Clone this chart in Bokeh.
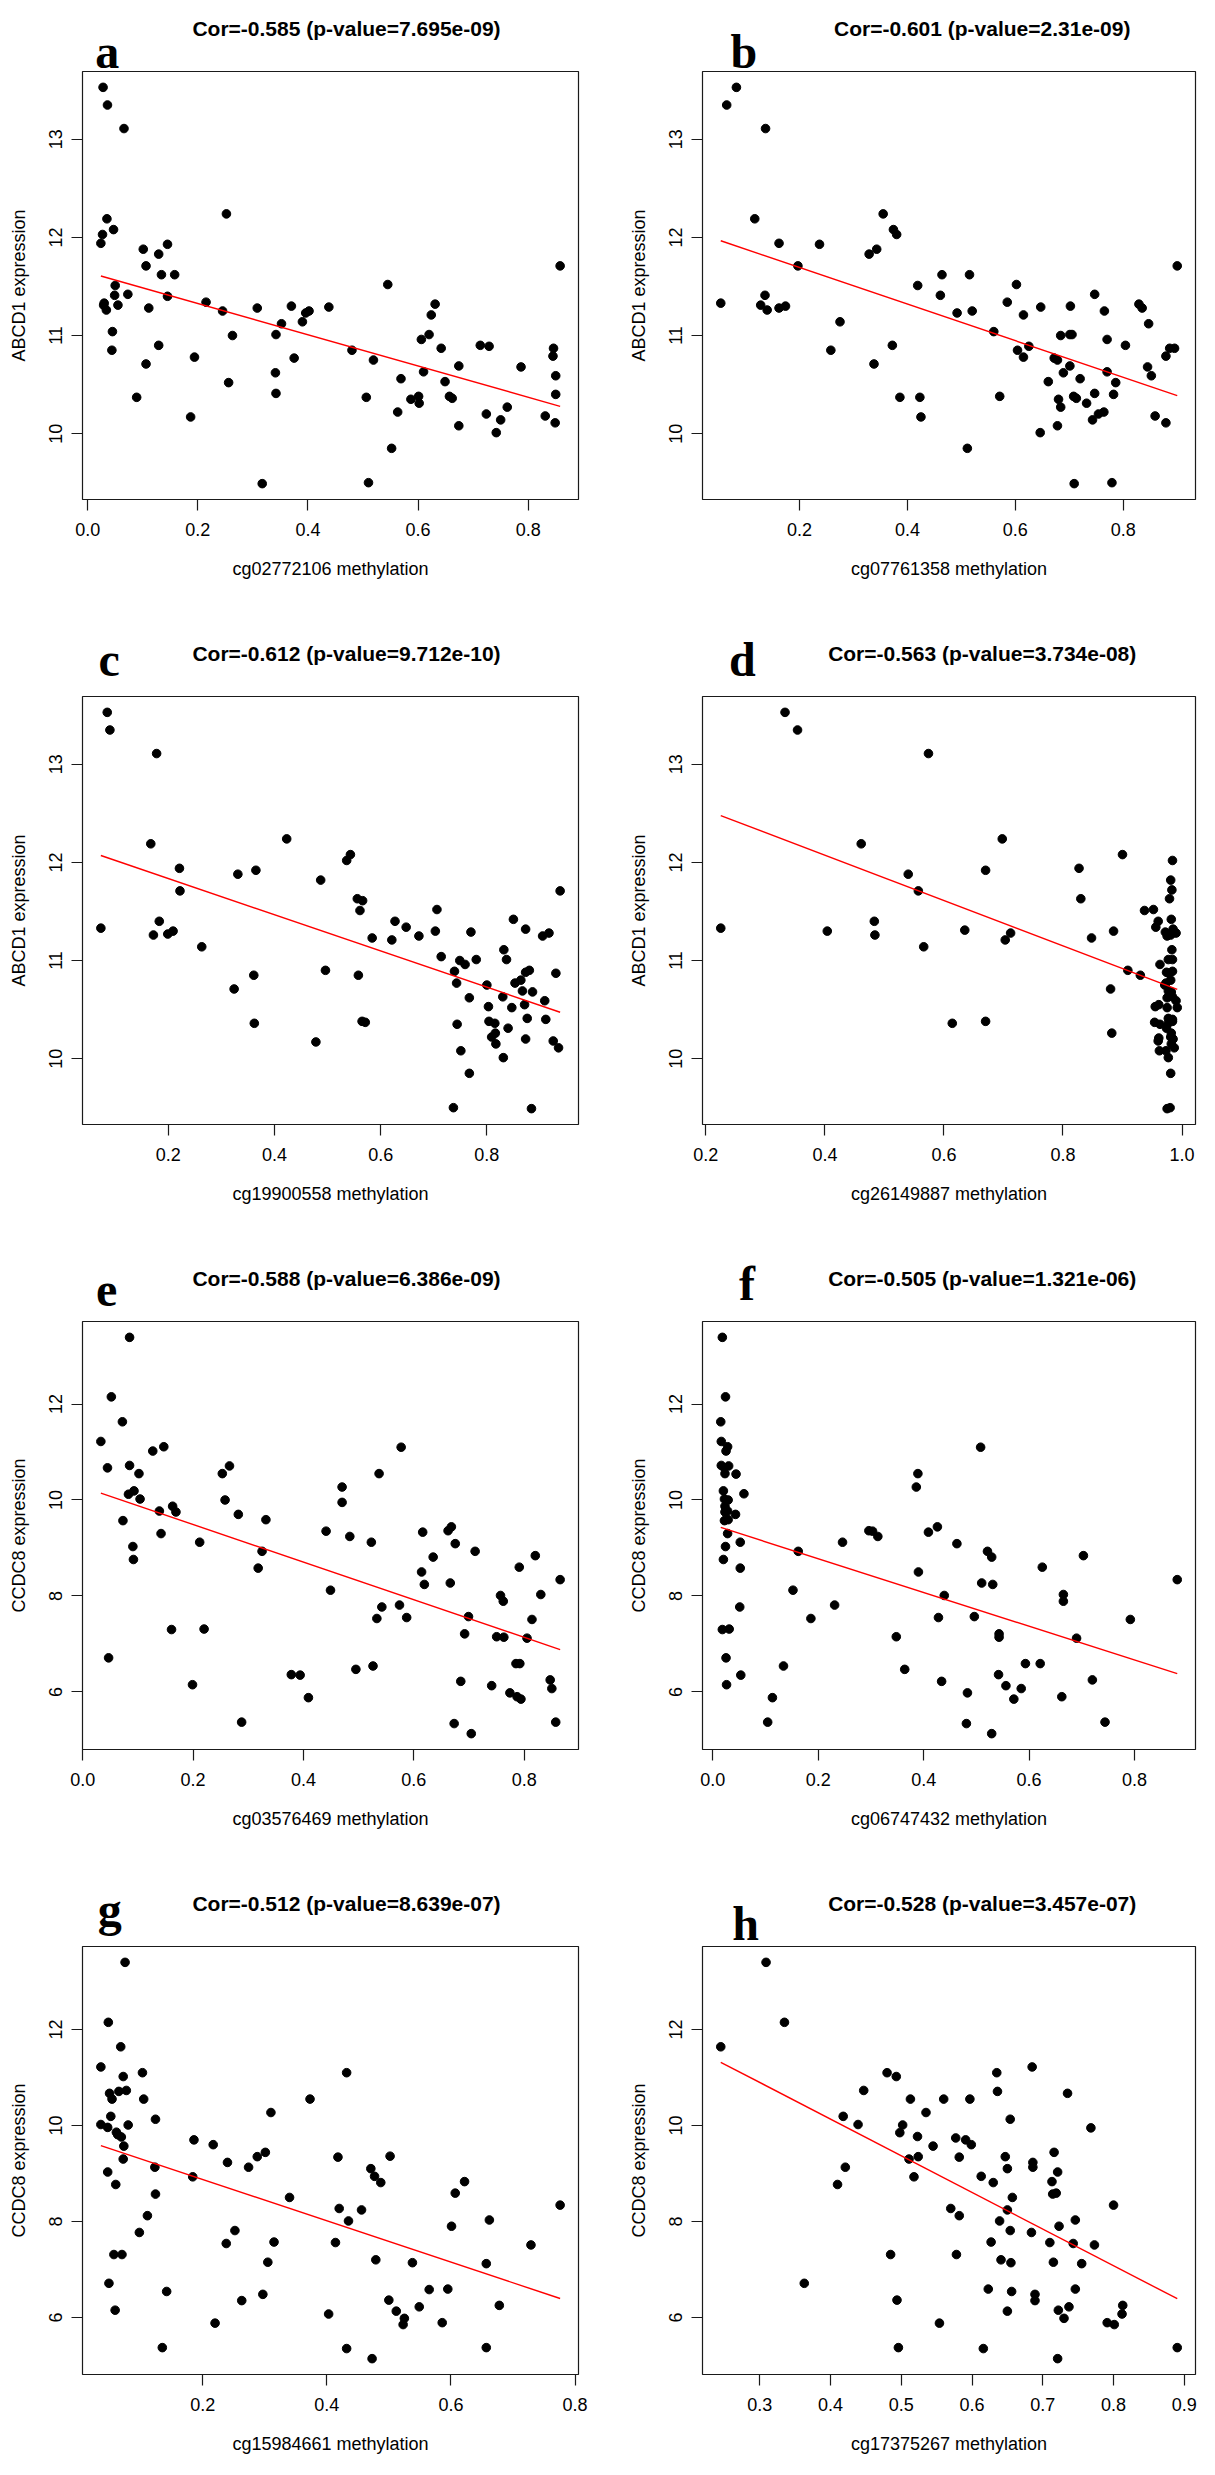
import numpy as np
from bokeh.plotting import figure
from bokeh.models import Range1d, FixedTicker, PrintfTickFormatter, Label
from bokeh.layouts import column, row
from bokeh.embed import file_html
from bokeh.resources import INLINE

# ---------------- data ----------------
letters = ["a", "b", "c", "d", "e", "f", "g", "h"]
titles = [
    "Cor=-0.585 (p-value=7.695e-09)", "Cor=-0.601 (p-value=2.31e-09)",
    "Cor=-0.612 (p-value=9.712e-10)", "Cor=-0.563 (p-value=3.734e-08)",
    "Cor=-0.588 (p-value=6.386e-09)", "Cor=-0.505 (p-value=1.321e-06)",
    "Cor=-0.512 (p-value=8.639e-07)", "Cor=-0.528 (p-value=3.457e-07)",
]
x_labels = [
    "cg02772106 methylation", "cg07761358 methylation",
    "cg19900558 methylation", "cg26149887 methylation",
    "cg03576469 methylation", "cg06747432 methylation",
    "cg15984661 methylation", "cg17375267 methylation",
]
y_labels = ["ABCD1 expression"] * 4 + ["CCDC8 expression"] * 4
x_ticks = [
    [0.0, 0.2, 0.4, 0.6, 0.8], [0.2, 0.4, 0.6, 0.8],
    [0.2, 0.4, 0.6, 0.8], [0.2, 0.4, 0.6, 0.8, 1.0],
    [0.0, 0.2, 0.4, 0.6, 0.8], [0.0, 0.2, 0.4, 0.6, 0.8],
    [0.2, 0.4, 0.6, 0.8], [0.3, 0.4, 0.5, 0.6, 0.7, 0.8, 0.9],
]
y_ticks = [[10, 11, 12, 13]] * 4 + [[6, 8, 10, 12]] * 4

a_x = [0.028, 0.036, 0.066, 0.035, 0.047, 0.027, 0.024, 0.252, 0.101, 0.106,
       0.129, 0.145, 0.134, 0.158, 0.050, 0.049, 0.073, 0.145, 0.030, 0.029,
       0.034, 0.055, 0.111, 0.045, 0.044, 0.106, 0.129, 0.089, 0.194, 0.187,
       0.215, 0.245, 0.263, 0.256, 0.308, 0.317, 0.342, 0.341, 0.342, 0.352,
       0.370, 0.375, 0.390, 0.396, 0.402, 0.438, 0.480, 0.506, 0.510, 0.519,
       0.545, 0.552, 0.563, 0.569, 0.587, 0.601, 0.602, 0.606, 0.610, 0.620,
       0.624, 0.631, 0.642, 0.649, 0.657, 0.662, 0.674, 0.674, 0.713, 0.729,
       0.724, 0.742, 0.750, 0.762, 0.787, 0.831, 0.846, 0.845, 0.850, 0.850,
       0.849, 0.858]
a_y = [13.53, 13.35, 13.11, 12.19, 12.08, 12.03, 11.94, 12.24, 11.88, 11.71,
       11.83, 11.93, 11.62, 11.62, 11.51, 11.41, 11.42, 11.40, 11.33, 11.31,
       11.26, 11.31, 11.28, 11.04, 10.85, 10.71, 10.90, 10.37, 10.78, 10.17,
       11.34, 11.25, 11.00, 10.52, 11.28, 9.49, 11.01, 10.62, 10.41, 11.12,
       11.30, 10.77, 11.14, 11.23, 11.25, 11.29, 10.85, 10.37, 9.50, 10.75,
       11.52, 9.85, 10.22, 10.56, 10.35, 10.38, 10.31, 10.96, 10.63, 11.01,
       11.21, 11.32, 10.87, 10.53, 10.38, 10.36, 10.69, 10.08, 10.90, 10.89,
       10.20, 10.01, 10.14, 10.27, 10.68, 10.18, 10.87, 10.79, 10.59, 10.40,
       10.11, 11.71]

b_x = [0.054, 0.065, 0.083, 0.137, 0.117, 0.128, 0.136, 0.140, 0.162, 0.162,
       0.174, 0.197, 0.237, 0.258, 0.275, 0.329, 0.343, 0.338, 0.355, 0.374,
       0.380, 0.372, 0.386, 0.419, 0.423, 0.425, 0.461, 0.464, 0.492, 0.515,
       0.520, 0.511, 0.560, 0.571, 0.585, 0.602, 0.604, 0.615, 0.615, 0.625,
       0.647, 0.646, 0.661, 0.672, 0.678, 0.680, 0.678, 0.684, 0.684, 0.689,
       0.702, 0.701, 0.705, 0.701, 0.708, 0.713, 0.709, 0.720, 0.732, 0.743,
       0.747, 0.747, 0.754, 0.764, 0.765, 0.770, 0.770, 0.782, 0.779, 0.786,
       0.804, 0.829, 0.835, 0.847, 0.845, 0.852, 0.859, 0.879, 0.879, 0.886,
       0.895, 0.900]
b_y = [11.33, 13.35, 13.53, 13.11, 12.19, 11.31, 11.41, 11.26, 11.94, 11.28,
       11.30, 11.71, 11.93, 10.85, 11.14, 11.83, 11.88, 10.71, 12.24, 12.08,
       12.03, 10.90, 10.37, 11.51, 10.37, 10.17, 11.41, 11.62, 11.23, 11.62,
       11.25, 9.85, 11.04, 10.38, 11.34, 11.52, 10.85, 11.21, 10.78, 10.89,
       11.29, 10.01, 10.53, 10.77, 10.75, 10.35, 10.08, 10.27, 11.00, 10.62,
       11.30, 11.01, 11.01, 10.69, 10.38, 10.36, 9.49, 10.56, 10.31, 10.14,
       11.42, 10.41, 10.20, 10.22, 11.25, 10.96, 10.63, 10.40, 9.50, 10.52,
       10.90, 11.32, 11.28, 11.12, 10.68, 10.59, 10.18, 10.79, 10.11, 10.87,
       10.87, 11.71]

c_x = [0.073, 0.085, 0.090, 0.167, 0.172, 0.178, 0.183, 0.199, 0.209, 0.221,
       0.222, 0.263, 0.324, 0.331, 0.361, 0.362, 0.365, 0.423, 0.478, 0.487,
       0.496, 0.536, 0.543, 0.556, 0.566, 0.561, 0.558, 0.565, 0.571, 0.584,
       0.621, 0.627, 0.648, 0.672, 0.703, 0.706, 0.714, 0.739, 0.743, 0.744,
       0.737, 0.749, 0.751, 0.759, 0.767, 0.767, 0.770, 0.780, 0.800, 0.803,
       0.804, 0.809, 0.815, 0.816, 0.817, 0.830, 0.831, 0.832, 0.837, 0.840,
       0.847, 0.850, 0.853, 0.864, 0.867, 0.873, 0.871, 0.873, 0.880, 0.876,
       0.873, 0.884, 0.886, 0.905, 0.917, 0.909, 0.911, 0.925, 0.930, 0.935,
       0.938]
c_y = [11.33, 13.53, 13.35, 12.19, 11.26, 13.11, 11.40, 11.27, 11.30, 11.94,
       11.71, 11.14, 10.71, 11.88, 10.85, 10.36, 11.92, 12.24, 10.17, 11.82,
       10.90, 12.02, 12.08, 11.63, 11.61, 11.51, 10.85, 10.38, 10.37, 11.23,
       11.21, 11.40, 11.34, 11.25, 11.30, 11.52, 11.04, 10.89, 10.77, 10.35,
       9.50, 11.00, 10.08, 10.96, 10.62, 9.85, 11.29, 11.01, 10.75, 10.53,
       10.38, 10.22, 10.36, 10.26, 10.15, 10.63, 10.01, 11.11, 11.01, 10.31,
       10.52, 11.42, 10.77, 10.80, 10.69, 11.32, 10.55, 10.88, 10.90, 10.41,
       10.20, 9.49, 10.68, 11.25, 11.28, 10.59, 10.40, 10.18, 10.87, 10.11,
       11.71]

d_x = [0.225, 0.333, 0.354, 0.574, 0.461, 0.404, 0.483, 0.484, 0.540, 0.557,
       0.566, 0.614, 0.635, 0.670, 0.670, 0.698, 0.703, 0.712, 0.827, 0.830,
       0.848, 0.880, 0.882, 0.885, 0.900, 0.909, 0.930, 0.937, 0.952, 0.960,
       0.956, 0.955, 0.961, 0.954, 0.963, 0.960, 0.961, 0.962, 0.963, 0.972,
       0.975, 0.981, 0.985, 0.990, 0.979, 0.981, 0.984, 0.983, 0.982, 0.983,
       0.977, 0.984, 0.974, 0.978, 0.984, 0.973, 0.981, 0.977, 0.982, 0.975,
       0.984, 0.990, 0.992, 0.977, 0.984, 0.974, 0.981, 0.985, 0.982, 0.987,
       0.977, 0.981, 0.975, 0.980, 0.971, 0.975, 0.977, 0.984, 0.982, 0.973]
d_y = [11.33, 13.53, 13.35, 13.11, 12.19, 11.30, 11.40, 11.26, 11.88, 11.71,
       11.14, 10.36, 11.31, 11.92, 10.38, 12.24, 11.21, 11.28, 11.94, 11.63,
       11.23, 10.71, 10.26, 11.30, 12.08, 10.90, 10.85, 11.51, 11.52, 11.40,
       11.34, 10.53, 10.55, 10.37, 10.35, 10.18, 10.21, 10.08, 10.96, 11.29,
       11.25, 11.26, 11.32, 11.28, 11.63, 11.82, 12.02, 11.72, 11.42, 11.11,
       11.01, 11.01, 10.88, 10.87, 10.89, 10.77, 10.80, 10.69, 10.68, 10.62,
       10.63, 10.59, 10.52, 10.41, 10.40, 10.31, 10.22, 10.20, 10.15, 10.11,
       10.01, 9.85, 9.49, 9.50, 10.75, 10.52, 10.36, 10.38, 10.26, 10.08]

e_x = [0.033, 0.045, 0.052, 0.047, 0.072, 0.073, 0.085, 0.085, 0.083, 0.093,
       0.091, 0.092, 0.102, 0.104, 0.127, 0.147, 0.139, 0.142, 0.163, 0.169,
       0.161, 0.199, 0.212, 0.220, 0.253, 0.258, 0.266, 0.282, 0.288, 0.318,
       0.325, 0.332, 0.378, 0.394, 0.409, 0.441, 0.449, 0.470, 0.470, 0.484,
       0.495, 0.523, 0.526, 0.537, 0.533, 0.542, 0.574, 0.577, 0.587, 0.614,
       0.616, 0.619, 0.635, 0.662, 0.668, 0.666, 0.675, 0.673, 0.685, 0.692,
       0.699, 0.704, 0.711, 0.741, 0.750, 0.763, 0.757, 0.762, 0.774, 0.785,
       0.792, 0.787, 0.794, 0.791, 0.805, 0.814, 0.820, 0.830, 0.847, 0.850,
       0.857, 0.865]
e_y = [11.22, 10.67, 12.15, 6.71, 11.63, 9.57, 13.39, 10.72, 10.12, 10.19,
       9.03, 8.76, 10.55, 10.02, 11.02, 11.11, 9.77, 9.30, 9.87, 9.75,
       7.30, 6.15, 9.12, 7.31, 10.55, 10.00, 10.71, 9.70, 5.37, 8.58,
       8.93, 9.59, 6.36, 6.35, 5.88, 9.35, 8.12, 10.27, 9.95, 9.24,
       6.47, 9.12, 6.54, 10.55, 7.53, 7.77, 7.81, 11.10, 7.55, 8.50,
       9.33, 8.24, 8.81, 9.36, 9.44, 8.27, 9.09, 5.34, 6.22, 7.21,
       7.57, 5.13, 8.93, 6.13, 7.15, 7.14, 8.01, 7.89, 5.98, 6.59,
       6.59, 5.90, 5.85, 8.60, 7.12, 7.51, 8.84, 8.03, 6.25, 6.07,
       5.37, 8.34]

f_x = [0.018, 0.024, 0.015, 0.016, 0.028, 0.025, 0.016, 0.022, 0.030, 0.023,
       0.044, 0.020, 0.059, 0.022, 0.029, 0.023, 0.028, 0.023, 0.043, 0.022,
       0.029, 0.028, 0.052, 0.024, 0.020, 0.052, 0.051, 0.018, 0.031, 0.025,
       0.026, 0.053, 0.104, 0.113, 0.134, 0.152, 0.162, 0.186, 0.231, 0.246,
       0.296, 0.303, 0.313, 0.348, 0.364, 0.386, 0.389, 0.390, 0.409, 0.426,
       0.428, 0.434, 0.439, 0.463, 0.481, 0.483, 0.496, 0.508, 0.510, 0.521,
       0.529, 0.531, 0.529, 0.543, 0.543, 0.542, 0.556, 0.571, 0.585, 0.593,
       0.621, 0.625, 0.662, 0.665, 0.665, 0.690, 0.703, 0.720, 0.744, 0.792,
       0.881]
f_y = [13.39, 12.15, 11.63, 11.22, 11.11, 11.02, 10.72, 10.67, 10.71, 10.55,
       10.54, 10.19, 10.13, 10.02, 10.00, 9.87, 9.77, 9.75, 9.70, 9.57,
       9.59, 9.30, 9.12, 9.03, 8.76, 8.58, 7.77, 7.30, 7.31, 6.71,
       6.15, 6.35, 5.37, 5.88, 6.54, 8.12, 8.93, 7.53, 7.81, 9.12,
       9.36, 9.35, 9.24, 7.15, 6.47, 10.27, 10.55, 8.50, 9.33, 9.44,
       7.55, 6.22, 8.01, 9.09, 5.34, 5.98, 7.57, 11.10, 8.27, 8.93,
       8.81, 8.24, 5.13, 7.21, 7.14, 6.36, 6.13, 5.85, 6.07, 6.59,
       6.59, 8.60, 5.90, 8.03, 7.89, 7.12, 8.84, 6.25, 5.37, 7.51,
       8.34]

g_x = [0.036, 0.036, 0.047, 0.048, 0.047, 0.049, 0.050, 0.054, 0.052, 0.060,
       0.059, 0.057, 0.061, 0.063, 0.068, 0.065, 0.069, 0.070, 0.072, 0.073,
       0.072, 0.075, 0.077, 0.080, 0.098, 0.103, 0.105, 0.111, 0.123, 0.124,
       0.124, 0.135, 0.142, 0.186, 0.184, 0.217, 0.220, 0.238, 0.240, 0.252,
       0.263, 0.274, 0.288, 0.297, 0.301, 0.305, 0.310, 0.315, 0.340, 0.373,
       0.403, 0.414, 0.418, 0.420, 0.432, 0.432, 0.435, 0.456, 0.471, 0.477,
       0.473, 0.479, 0.487, 0.500, 0.502, 0.512, 0.523, 0.525, 0.538, 0.549,
       0.565, 0.586, 0.595, 0.601, 0.607, 0.622, 0.657, 0.657, 0.662, 0.678,
       0.729, 0.776]
g_y = [11.22, 10.02, 9.96, 12.15, 9.03, 6.71, 10.67, 10.55, 10.19, 8.77,
       6.15, 7.31, 9.86, 9.81, 11.64, 10.71, 9.76, 7.31, 11.02, 9.57,
       9.30, 13.40, 10.73, 10.01, 7.77, 11.10, 10.55, 8.12, 9.13, 10.13,
       8.57, 5.37, 6.54, 9.70, 8.93, 9.60, 5.88, 7.54, 9.23, 7.81,
       6.35, 9.13, 9.35, 6.48, 9.44, 7.15, 10.27, 7.57, 8.50, 10.55,
       6.07, 7.56, 9.34, 8.27, 11.10, 5.35, 8.01, 8.24, 9.10, 8.94,
       5.14, 7.20, 8.81, 6.36, 9.36, 6.13, 5.85, 5.98, 7.14, 6.22,
       6.58, 5.89, 6.59, 7.90, 8.59, 8.83, 7.12, 5.37, 8.03, 6.25,
       7.51, 8.34]

h_x = [0.245, 0.309, 0.335, 0.363, 0.410, 0.418, 0.421, 0.439, 0.447, 0.480,
       0.493, 0.485, 0.498, 0.502, 0.494, 0.496, 0.511, 0.513, 0.523, 0.524,
       0.518, 0.535, 0.545, 0.554, 0.560, 0.570, 0.577, 0.582, 0.582, 0.578,
       0.591, 0.597, 0.599, 0.613, 0.616, 0.623, 0.627, 0.630, 0.635, 0.636,
       0.639, 0.641, 0.647, 0.650, 0.650, 0.650, 0.654, 0.654, 0.655, 0.656,
       0.657, 0.684, 0.685, 0.686, 0.686, 0.689, 0.689, 0.710, 0.713, 0.714,
       0.715, 0.716, 0.719, 0.721, 0.721, 0.722, 0.723, 0.730, 0.735, 0.737,
       0.743, 0.746, 0.746, 0.755, 0.768, 0.773, 0.791, 0.801, 0.800, 0.812,
       0.813, 0.890]
h_y = [11.64, 13.40, 12.15, 6.71, 8.77, 10.19, 9.13, 10.02, 10.73, 11.10,
       11.02, 7.31, 9.85, 10.01, 6.36, 5.37, 9.30, 10.55, 9.77, 9.35,
       8.93, 10.27, 9.57, 5.88, 10.55, 8.27, 9.74, 9.34, 8.12, 7.31,
       9.70, 10.55, 9.60, 8.94, 5.35, 6.59, 7.57, 8.81, 11.10, 10.71,
       8.01, 7.20, 9.35, 9.10, 8.24, 6.13, 10.13, 7.81, 7.14, 6.54,
       8.50, 7.77, 11.22, 9.23, 9.13, 6.48, 6.35, 7.56, 8.83, 8.57,
       7.15, 9.44, 8.59, 9.03, 5.14, 6.15, 7.90, 5.98, 10.67, 6.22,
       7.54, 8.03, 6.59, 7.12, 9.95, 7.51, 5.89, 5.85, 8.34, 6.07,
       6.25, 5.37]

xs_all = [a_x, b_x, c_x, d_x, e_x, f_x, g_x, h_x]
ys_all = [a_y, b_y, c_y, d_y, e_y, f_y, g_y, h_y]

# ---------------- layout / style ----------------
SANS = "Liberation Sans"
SERIF = "Liberation Serif"
FRAME_H = 428
COL_W = [620, 579]
BORDER_L = [82, 82]
BORDER_R = [42, 4]
HEAD_H = [69, 87, 87, 87]      # height of the strip holding letter + title
TOP_PAD = 2                    # gap between strip and the plot box
ROW_B = [108, 108, 108, 85]
# panel letter placement relative to the box (left offset, baseline above box top)
LETTER_DX = [-66, -49, -62, -51, -65, -39, -63, -47]
LETTER_DY = [20, 20, 37, 37, 32, 38, 37, 23]
LETTER_SIZE = "48px"
TITLE_DY = 42.7
INK = "#1a1a1a"


def padded(v):
    lo, hi = min(v), max(v)
    d = (hi - lo) * 0.04
    return Range1d(lo - d, hi + d)


def make_head(i):
    r, c = divmod(i, 2)
    w, h = COL_W[c], HEAD_H[r]
    fw = COL_W[c] - BORDER_L[c] - BORDER_R[c]
    s = figure(width=w, height=h, x_range=Range1d(0, w), y_range=Range1d(0, h),
               x_axis_type=None, y_axis_type=None,
               output_backend="svg", toolbar_location=None, min_border=0)
    s.grid.visible = False
    s.outline_line_color = None
    s.background_fill_color = "white"
    s.border_fill_color = "white"
    s.add_layout(Label(x=BORDER_L[c] + fw / 2, y=TITLE_DY - TOP_PAD, text=titles[i],
                       text_font=SANS, text_font_size="21px",
                       text_font_style="bold", text_color="black",
                       text_align="center", text_baseline="middle"))
    s.add_layout(Label(x=BORDER_L[c] + LETTER_DX[i], y=LETTER_DY[i] - TOP_PAD, text=letters[i],
                       text_font=SERIF, text_font_size=LETTER_SIZE,
                       text_font_style="bold", text_color="black",
                       text_align="left", text_baseline="alphabetic"))
    return s


def make_panel(i):
    r, c = divmod(i, 2)
    x = xs_all[i]
    y = ys_all[i]
    p = figure(width=COL_W[c], height=TOP_PAD + FRAME_H + ROW_B[r],
               x_range=padded(x), y_range=padded(y),
               output_backend="svg", toolbar_location=None,
               min_border_left=BORDER_L[c], min_border_right=BORDER_R[c],
               min_border_top=TOP_PAD, min_border_bottom=ROW_B[r])
    p.xgrid.visible = False
    p.ygrid.visible = False
    p.outline_line_color = INK
    p.outline_line_width = 1.2
    p.background_fill_color = "white"
    p.border_fill_color = "white"

    for ax in (p.xaxis[0], p.yaxis[0]):
        ax.axis_line_color = None
        ax.major_tick_out = 11
        ax.major_tick_in = 0
        ax.major_tick_line_color = INK
        ax.major_tick_line_width = 1.2
        ax.minor_tick_line_color = None
        ax.major_label_text_font = SANS
        ax.major_label_text_font_size = "18px"
        ax.major_label_text_color = "black"
        ax.axis_label_text_font = SANS
        ax.axis_label_text_font_size = "18px"
        ax.axis_label_text_font_style = "normal"
        ax.axis_label_text_color = "black"

    p.xaxis[0].ticker = FixedTicker(ticks=x_ticks[i])
    p.xaxis[0].formatter = PrintfTickFormatter(format="%.1f")
    p.xaxis[0].major_label_standoff = 12
    p.xaxis[0].axis_label = x_labels[i]
    p.xaxis[0].axis_label_standoff = 20

    p.yaxis[0].ticker = FixedTicker(ticks=y_ticks[i])
    p.yaxis[0].formatter = PrintfTickFormatter(format="%d")
    p.yaxis[0].major_label_orientation = "vertical"
    p.yaxis[0].major_label_standoff = 9
    p.yaxis[0].axis_label = y_labels[i]
    p.yaxis[0].axis_label_standoff = 18

    p.scatter(x, y, size=8.6, color="black", marker="circle")

    slope, intercept = np.polyfit(x, y, 1)
    lx = [min(x), max(x)]
    ly = [slope * v + intercept for v in lx]
    p.line(lx, ly, line_color="red", line_width=1.4)
    return p


cells = [column(make_head(i), make_panel(i)) for i in range(8)]
layout = column(row(cells[0], cells[1]), row(cells[2], cells[3]),
                row(cells[4], cells[5]), row(cells[6], cells[7]))

open("out.html", "w").write(file_html(layout, INLINE))
